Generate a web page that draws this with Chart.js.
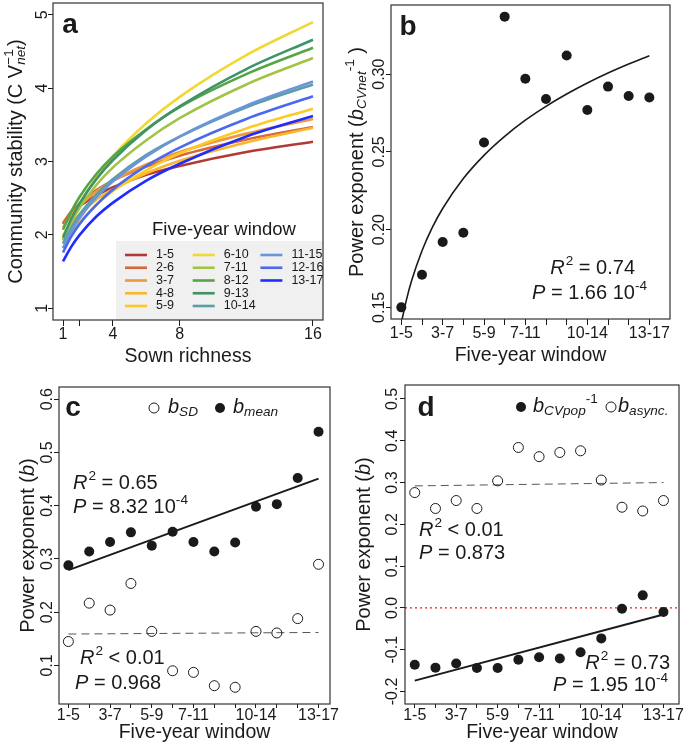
<!DOCTYPE html>
<html>
<head>
<meta charset="utf-8">
<script src="https://cdn.jsdelivr.net/npm/chart.js@4.4.1/dist/chart.umd.min.js"></script>
<style>
  body { margin: 0; background: #fff; }
  #fig { position: relative; width: 685px; height: 756px; }
  canvas { position: absolute; }
</style>
</head>
<body>
<div id="fig">
  <canvas id="pa" width="343" height="378" style="left:0;top:0"></canvas>
  <canvas id="pb" width="342" height="378" style="left:343px;top:0"></canvas>
  <canvas id="pc" width="343" height="378" style="left:0;top:378px"></canvas>
  <canvas id="pd" width="342" height="378" style="left:343px;top:378px"></canvas>
</div>
<script>
// ---- data ----
const windows = ['1-5','2-6','3-7','4-8','5-9','6-10','7-11','8-12','9-13','10-14','11-15','12-16','13-17'];
const windowPos = [1,2,3,4,5,6,7,8,9,10,11,12,13];
const windowTickLabels = ['1-5','','3-7','','5-9','','7-11','','','10-14','','','13-17'];

// panel a: fitted stability curves, sampled at these sown richness levels
const richness = [1, 1.5, 2, 3, 4, 6, 8, 12, 16];
const richnessTicks = [1, 2, 4, 8, 16];
const richnessTickLabels = ['1', '', '4', '8', '16'];
const stab1_5   = [2.15, 2.29, 2.39, 2.54, 2.65, 2.82, 2.94, 3.13, 3.27];
const stab2_6   = [2.16, 2.32, 2.43, 2.61, 2.74, 2.93, 3.08, 3.30, 3.47];
const stab3_7   = [2.10, 2.27, 2.40, 2.59, 2.74, 2.96, 3.13, 3.38, 3.58];
const stab4_8   = [1.99, 2.16, 2.28, 2.48, 2.62, 2.84, 3.01, 3.26, 3.46];
const stab5_9   = [1.82, 2.02, 2.17, 2.41, 2.60, 2.88, 3.11, 3.45, 3.72];
const stab6_10  = [1.92, 2.20, 2.43, 2.78, 3.07, 3.52, 3.88, 4.45, 4.90];
const stab7_11  = [1.93, 2.18, 2.37, 2.68, 2.92, 3.29, 3.59, 4.05, 4.41];
const stab8_12  = [2.07, 2.32, 2.52, 2.83, 3.07, 3.44, 3.74, 4.19, 4.55];
const stab9_13  = [1.96, 2.22, 2.43, 2.76, 3.02, 3.43, 3.75, 4.26, 4.66];
const stab10_14 = [1.88, 2.10, 2.28, 2.55, 2.76, 3.09, 3.34, 3.74, 4.05];
const stab11_15 = [1.82, 2.05, 2.23, 2.51, 2.73, 3.07, 3.34, 3.76, 4.09];
const stab12_16 = [1.76, 1.98, 2.15, 2.41, 2.62, 2.94, 3.19, 3.58, 3.89];
const stab13_17 = [1.64, 1.84, 2.00, 2.25, 2.44, 2.74, 2.97, 3.34, 3.62];
const stabTicks = [1, 2, 3, 4, 5];
const stabTickLabels = ['1', '2', '3', '4', '5'];

// panel b
const bCVnet = [0.150, 0.171, 0.192, 0.198, 0.256, 0.337, 0.297, 0.284, 0.312, 0.277, 0.292, 0.286, 0.285];
const bFitX = [1, 1.25, 1.5, 2, 2.5, 3, 4, 5, 6, 7, 8, 9, 10, 11, 12, 13];
const bFitY = [0.1400, 0.1550, 0.1672, 0.1864, 0.2014, 0.2136, 0.2329, 0.2478, 0.2600, 0.2704, 0.2793, 0.2872, 0.2943, 0.3007, 0.3065, 0.3119];
const bTicks = [0.15, 0.20, 0.25, 0.30];
const bTickLabels = ['0.15', '0.20', '0.25', '0.30'];

// panel c
const bMean = [0.288, 0.314, 0.332, 0.350, 0.325, 0.351, 0.332, 0.314, 0.331, 0.398, 0.403, 0.452, 0.539];
const bSD   = [0.145, 0.217, 0.204, 0.254, 0.164, 0.090, 0.087, 0.062, 0.059, 0.164, 0.161, 0.188, 0.290];
const lineEnds = [1, 13];
const fitMean = [0.279, 0.451];
const fitSD   = [0.159, 0.162];
const cTicks = [0.1, 0.2, 0.3, 0.4, 0.5, 0.6];
const cTickLabels = ['0.1', '0.2', '0.3', '0.4', '0.5', '0.6'];

// panel d
const bCVpopInv = [-0.136, -0.143, -0.133, -0.144, -0.144, -0.124, -0.118, -0.121, -0.106, -0.073, -0.002, 0.030, -0.010];
const bAsync    = [0.276, 0.238, 0.257, 0.238, 0.304, 0.384, 0.362, 0.372, 0.376, 0.306, 0.241, 0.232, 0.257];
const fitCVpop = [-0.174, -0.016];
const fitAsync = [0.292, 0.300];
const dTicks = [-0.2, -0.1, 0.0, 0.1, 0.2, 0.3, 0.4, 0.5];
const dTickLabels = ['-0.2', '-0.1', '0.0', '0.1', '0.2', '0.3', '0.4', '0.5'];

// ---- styling helpers ----
const FONT = '"Liberation Sans", Arial, Helvetica, sans-serif';
const INK = '#1a1a1a';
const TICK_SIZE = 16;
const windowColors = ['#b23a34','#d4693a','#ee9a3a','#f8b72c','#fcca28','#f1d834','#a2c445',
                      '#55a548','#3f9467','#5a9ea6','#6a95d8','#4a68f0','#1f2cff'];

function pts(xs, ys) { return xs.map((x, i) => ({ x: x, y: ys[i] })); }

function layoutRich(ctx, parts, size) {
  let cx = 0, pending = 0;
  const items = [];
  for (const p of parts) {
    const s = (p.sup || p.sub) ? size * 0.68 : size;
    const font = (p.i ? 'italic ' : '') + (p.b ? 'bold ' : '') + s + 'px ' + FONT;
    ctx.font = font;
    const w = ctx.measureText(p.t).width;
    items.push({ t: p.t, font: font, x: cx + (p.pad || 0), dy: p.sup ? -size * 0.32 : p.sub ? size * 0.28 : 0 });
    if (p.keep) { pending = Math.max(pending, w); }
    else { cx += Math.max(w, pending) + (p.pad || 0); pending = 0; }
  }
  return { items: items, width: cx };
}

function drawRich(ctx, parts, x, y, size, align, rot) {
  ctx.save();
  ctx.translate(x, y);
  if (rot) ctx.rotate(rot);
  const L = layoutRich(ctx, parts, size);
  const x0 = align === 'center' ? -L.width / 2 : align === 'right' ? -L.width : 0;
  ctx.fillStyle = INK;
  ctx.textBaseline = 'middle';
  ctx.textAlign = 'left';
  L.items.forEach(it => { ctx.font = it.font; ctx.fillText(it.t, x0 + it.x, it.dy); });
  ctx.restore();
}

function dot(ctx, x, y, filled) {
  ctx.beginPath();
  ctx.arc(x, y, 5, 0, Math.PI * 2);
  if (filled) { ctx.fillStyle = INK; ctx.fill(); }
  else { ctx.strokeStyle = INK; ctx.lineWidth = 1; ctx.stroke(); }
}

function xAxis(min, max, ticks, labels, tl, pad, h) {
  return {
    type: 'linear', min: min, max: max,
    afterBuildTicks: s => { s.ticks = ticks.map(v => ({ value: v })); },
    afterFit: s => { s.height = h; },
    ticks: { autoSkip: false, maxRotation: 0, minRotation: 0, padding: pad, color: INK,
             font: { family: FONT, size: TICK_SIZE, lineHeight: 1 }, callback: (v, i) => labels[i] },
    grid: { display: true, drawOnChartArea: false, drawTicks: true, tickLength: tl, tickColor: INK, tickWidth: 1 },
    border: { display: false }
  };
}

function yAxis(min, max, ticks, w) {
  return {
    type: 'linear', min: min, max: max,
    afterBuildTicks: s => { s.ticks = ticks.map(v => ({ value: v })); },
    afterFit: s => { s.width = w; },
    ticks: { display: false },
    grid: { display: true, drawOnChartArea: false, drawTicks: true, tickLength: 5, tickColor: INK, tickWidth: 1 },
    border: { display: false }
  };
}

// draws the box, rotated y labels, titles and notes of one panel
function decor(o) {
  return {
    id: 'decor',
    beforeDatasetsDraw(chart) {
      if (o.before) o.before(chart.ctx, chart);
    },
    afterDraw(chart) {
      const ctx = chart.ctx, a = chart.chartArea, ys = chart.scales.y;
      ctx.save();
      ctx.strokeStyle = '#333';
      ctx.lineWidth = 1.2;
      ctx.strokeRect(a.left, a.top, a.right - a.left, a.bottom - a.top);
      ctx.restore();
      ys.ticks.forEach((t, i) => {
        drawRich(ctx, [{ t: o.yLabels[i] }], a.left - o.yLabelGap, ys.getPixelForValue(t.value), TICK_SIZE, 'center', -Math.PI / 2);
      });
      drawRich(ctx, o.yTitle, o.yTitleX, (a.top + a.bottom) / 2, 20, 'center', -Math.PI / 2);
      drawRich(ctx, [{ t: o.xTitle }], (a.left + a.right) / 2, o.xTitleY, 19.5, 'center');
      drawRich(ctx, [{ t: o.letter, b: true }], o.letterX, o.letterY, 28, 'center');
      (o.notes || []).forEach(n => drawRich(ctx, n.parts, n.x, n.y, 20, n.align));
      if (o.after) o.after(ctx, chart);
    }
  };
}

function baseOptions(scales, pad) {
  return {
    responsive: false, animation: false,
    layout: { padding: pad },
    plugins: { legend: { display: false }, tooltip: { enabled: false } },
    scales: scales
  };
}

const R2 = (rest) => [{ t: 'R', i: true }, { t: '2', sup: true, pad: 1 }, { t: rest }];
const Pv = (rest, exp) => exp ? [{ t: 'P', i: true }, { t: rest }, { t: exp, sup: true }] : [{ t: 'P', i: true }, { t: rest }];

// ---- panel a ----
const stabSeries = [stab1_5, stab2_6, stab3_7, stab4_8, stab5_9, stab6_10, stab7_11,
                    stab8_12, stab9_13, stab10_14, stab11_15, stab12_16, stab13_17];
new Chart(document.getElementById('pa'), {
  type: 'scatter',
  data: {
    datasets: stabSeries.map((s, i) => ({
      label: windows[i], data: pts(richness, s), showLine: true, pointRadius: 0,
      borderColor: windowColors[i], borderWidth: 2.6, cubicInterpolationMode: 'monotone',
      order: windows.length - i
    }))
  },
  options: baseOptions({
    x: xAxis(0.4, 16.6, richnessTicks, richnessTickLabels, 6, 1, 58),
    y: yAxis(0.84, 5.16, stabTicks, 53)
  }, { left: 0, top: 3, right: 20, bottom: 0 }),
  plugins: [decor({
    yLabels: stabTickLabels, yLabelGap: 10,
    yTitle: [{ t: 'Community stability (C V' }, { t: 'net', sub: true, i: true, keep: true }, { t: '\u22121', sup: true }, { t: ')' }],
    yTitleX: 16, xTitle: 'Sown richness', xTitleY: 357,
    letter: 'a', letterX: 70, letterY: 25,
    before(ctx) {
      ctx.save();
      ctx.fillStyle = '#f0f0f0';
      ctx.fillRect(116, 241, 207, 79);
      ctx.restore();
      drawRich(ctx, [{ t: 'Five-year window' }], 224, 230, 18.5, 'center');
      const colX = [125, 192.7, 260.4];
      windows.forEach((w, i) => {
        const cx = colX[Math.floor(i / 5)], cy = 255 + (i % 5) * 12.75;
        ctx.save();
        ctx.strokeStyle = windowColors[i];
        ctx.lineWidth = 2.6;
        ctx.beginPath(); ctx.moveTo(cx, cy); ctx.lineTo(cx + 22, cy); ctx.stroke();
        ctx.restore();
        drawRich(ctx, [{ t: w }], cx + 31, cy, 12.5, 'left');
      });
    }
  })]
});

// ---- panel b ----
new Chart(document.getElementById('pb'), {
  type: 'scatter',
  data: {
    datasets: [
      { data: pts(windowPos, bCVnet), pointRadius: 5, pointBackgroundColor: INK, pointBorderWidth: 0 },
      { data: pts(bFitX, bFitY), showLine: true, pointRadius: 0, borderColor: INK, borderWidth: 1.6, cubicInterpolationMode: 'monotone' }
    ]
  },
  options: baseOptions({
    x: xAxis(0.5, 14.0, windowPos, windowTickLabels, 6, 1, 59),
    y: yAxis(0.1425, 0.3445, bTicks, 48)
  }, { left: 0, top: 3, right: 15, bottom: 0 }),
  plugins: [decor({
    yLabels: bTickLabels, yLabelGap: 11.5,
    yTitle: [{ t: 'Power exponent (' }, { t: 'b', i: true }, { t: 'CVnet', sub: true, i: true }, { t: '-1', sup: true }, { t: ' )' }],
    yTitleX: 14, xTitle: 'Five-year window', xTitleY: 356,
    letter: 'b', letterX: 65, letterY: 27,
    notes: [
      { parts: R2(' = 0.74'), x: 292, y: 268, align: 'right' },
      { parts: Pv(' = 1.66 10', '-4'), x: 304, y: 293, align: 'right' }
    ]
  })]
});

// ---- panel c ----
new Chart(document.getElementById('pc'), {
  type: 'scatter',
  data: {
    datasets: [
      { data: pts(windowPos, bMean), pointRadius: 5, pointBackgroundColor: INK, pointBorderWidth: 0 },
      { data: pts(windowPos, bSD), pointRadius: 5, pointBackgroundColor: 'rgba(0,0,0,0)', pointBorderColor: INK, pointBorderWidth: 1 },
      { data: pts(lineEnds, fitMean), showLine: true, pointRadius: 0, borderColor: INK, borderWidth: 2 },
      { data: pts(lineEnds, fitSD), showLine: true, pointRadius: 0, borderColor: '#555', borderWidth: 1, borderDash: [8, 5] }
    ]
  },
  options: baseOptions({
    x: xAxis(0.55, 13.55, windowPos, windowTickLabels, 4, 0, 52),
    y: yAxis(0.0276, 0.623, cTicks, 59)
  }, { left: 0, top: 9, right: 13, bottom: 0 }),
  plugins: [decor({
    yLabels: cTickLabels, yLabelGap: 11.5,
    yTitle: [{ t: 'Power exponent (' }, { t: 'b', i: true }, { t: ')' }],
    yTitleX: 28, xTitle: 'Five-year window', xTitleY: 355,
    letter: 'c', letterX: 73, letterY: 30,
    notes: [
      { parts: R2(' = 0.65'), x: 73, y: 105, align: 'left' },
      { parts: Pv(' = 8.32 10', '-4'), x: 73, y: 129, align: 'left' },
      { parts: R2(' < 0.01'), x: 80, y: 280, align: 'left' },
      { parts: Pv(' = 0.968'), x: 75, y: 305, align: 'left' }
    ],
    after(ctx) {
      dot(ctx, 154, 30, false);
      drawRich(ctx, [{ t: 'b', i: true }, { t: 'SD', sub: true, i: true }], 168, 29, 20, 'left');
      dot(ctx, 220, 30, true);
      drawRich(ctx, [{ t: 'b', i: true }, { t: 'mean', sub: true, i: true }], 233, 29, 20, 'left');
    }
  })]
});

// ---- panel d ----
new Chart(document.getElementById('pd'), {
  type: 'scatter',
  data: {
    datasets: [
      { data: pts(windowPos, bCVpopInv), pointRadius: 5, pointBackgroundColor: INK, pointBorderWidth: 0 },
      { data: pts(windowPos, bAsync), pointRadius: 5, pointBackgroundColor: 'rgba(0,0,0,0)', pointBorderColor: INK, pointBorderWidth: 1 },
      { data: pts(lineEnds, fitCVpop), showLine: true, pointRadius: 0, borderColor: INK, borderWidth: 2 },
      { data: pts(lineEnds, fitAsync), showLine: true, pointRadius: 0, borderColor: '#555', borderWidth: 1, borderDash: [8, 5] }
    ]
  },
  options: baseOptions({
    x: xAxis(0.53, 13.75, windowPos, windowTickLabels, 4, 0, 52),
    y: yAxis(-0.230, 0.5335, dTicks, 62)
  }, { left: 0, top: 7, right: 3, bottom: 0 }),
  plugins: [decor({
    yLabels: dTickLabels, yLabelGap: 12,
    yTitle: [{ t: 'Power exponent (' }, { t: 'b', i: true }, { t: ')' }],
    yTitleX: 21, xTitle: 'Five-year window', xTitleY: 355,
    letter: 'd', letterX: 83, letterY: 30,
    notes: [
      { parts: R2(' < 0.01'), x: 76, y: 152, align: 'left' },
      { parts: Pv(' = 0.873'), x: 76, y: 175, align: 'left' },
      { parts: R2(' = 0.73'), x: 327, y: 285, align: 'right' },
      { parts: Pv(' = 1.95 10', '-4'), x: 325, y: 307, align: 'right' }
    ],
    before(ctx, chart) {
      const a = chart.chartArea, y0 = chart.scales.y.getPixelForValue(0);
      ctx.save();
      ctx.strokeStyle = '#e8201c';
      ctx.lineWidth = 1.4;
      ctx.setLineDash([2, 3]);
      ctx.beginPath(); ctx.moveTo(a.left, y0); ctx.lineTo(a.right, y0); ctx.stroke();
      ctx.restore();
    },
    after(ctx) {
      dot(ctx, 178, 29, true);
      drawRich(ctx, [{ t: 'b', i: true }, { t: 'CVpop', sub: true, i: true }, { t: '-1', sup: true }], 190, 28, 20, 'left');
      dot(ctx, 268, 29, false);
      drawRich(ctx, [{ t: 'b', i: true }, { t: 'async.', sub: true, i: true }], 275, 28, 20, 'left');
    }
  })]
});
</script>
</body>
</html>
